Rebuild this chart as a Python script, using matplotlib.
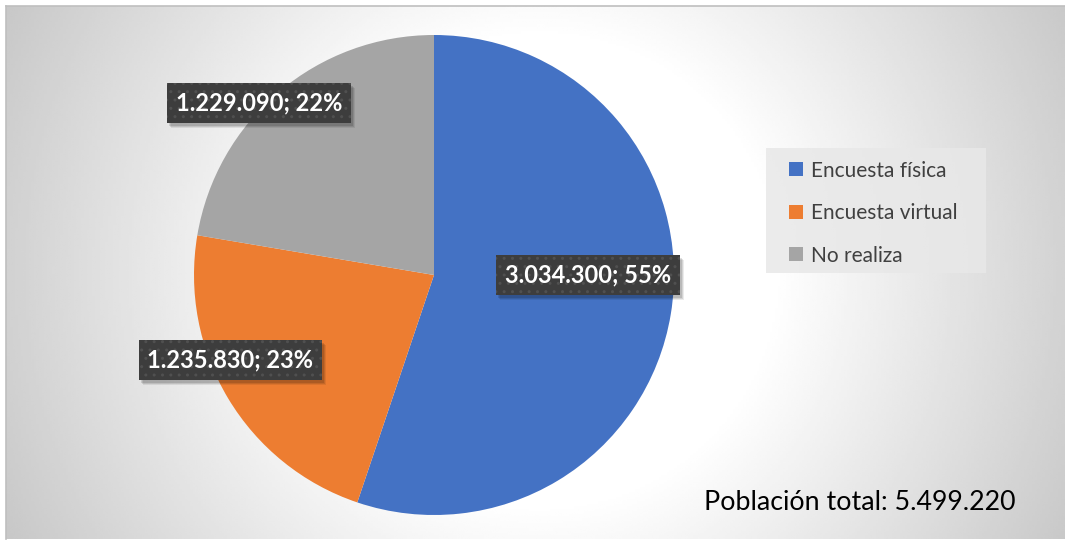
import numpy as np
import matplotlib
matplotlib.use("Agg")
import matplotlib.pyplot as plt
from matplotlib.patches import Rectangle

categories = ["Encuesta física", "Encuesta virtual", "No realiza"]
values = [3034300, 1235830, 1229090]
percentages = [55, 23, 22]
colors = ["#4472C4", "#ED7D31", "#A5A5A5"]
total_label = "Población total"

W, H = 1065, 541
fig = plt.figure(figsize=(W / 100, H / 100), dpi=100)
fig.patch.set_facecolor("white")
ax = fig.add_axes([0, 0, 1, 1])

# radial gradient background
x0, x1, y0, y1 = 6, W, 2, H - 6
xs = np.linspace(x0, x1, 400)
ys = np.linspace(y0, y1, 220)
X, Y = np.meshgrid(xs, ys)
cx, cy = 540, 270
d = np.hypot(X - cx, Y - cy)
v = 1 - 0.00060 * np.clip(d - 235, 0, None)
v = np.clip(v, 0, 1)
ax.imshow(v, cmap="gray", vmin=0, vmax=1, extent=(x0, x1, y0, y1),
          origin="lower", zorder=0, interpolation="bilinear", aspect="auto")
ax.plot([x0, x1], [y1, y1], color="#bfbfbf", lw=1.2, zorder=1)
ax.plot([x0, x0], [y0, y1], color="#bfbfbf", lw=1.2, zorder=1)

wedges, _ = ax.pie(values, colors=colors, startangle=90, counterclock=False,
                   center=(434, H - 275), radius=240,
                   wedgeprops=dict(edgecolor="none", linewidth=0))
for w in wedges:
    w.set_zorder(2)

ax.set_xlim(0, W)
ax.set_ylim(0, H)
ax.set_aspect("equal")
ax.axis("off")

def fmt(n):
    return f"{n:,}".replace(",", ".")

label_pos = [(588, H - 274.5), (230, H - 359.5), (259, H - 103)]
font = "Lato"
texts = []
for val, pct, (lx, ly) in zip(values, percentages, label_pos):
    txt = f"{fmt(val)}; {pct}%"
    t = ax.text(lx, ly, txt, ha="center", va="center", fontsize=17,
                fontweight="bold", family=font, color="white", zorder=4,
                bbox=dict(boxstyle="square,pad=0.36", facecolor="#3d3d3d",
                          edgecolor="#505050", linewidth=0, hatch=".."))
    texts.append(t)

# soft shadows behind label boxes
fig.canvas.draw()
inv = ax.transData.inverted()
for t in texts:
    bb = t.get_bbox_patch().get_window_extent()
    (bx0, by0), (bx1, by1) = inv.transform([[bb.x0, bb.y0], [bb.x1, bb.y1]])
    for k, a in [(5, 0.08), (4, 0.10), (3, 0.12)]:
        ax.add_patch(Rectangle((bx0 + k - 1, by0 - k), bx1 - bx0, by1 - by0,
                               facecolor="black", edgecolor="none",
                               alpha=a, zorder=3.5))

# legend background
ax.add_patch(Rectangle((766, H - 273), 220, 125, facecolor="#e8e8e8",
                       edgecolor="none", alpha=0.85, zorder=4))
leg = ax.legend(wedges, categories, loc="upper left",
                bbox_to_anchor=(787 / W, 1 - 158.5 / H),
                frameon=False,
                prop=dict(family=font, size=15), labelcolor="#404040",
                handlelength=0.68, handleheight=0.68, handletextpad=0.35,
                labelspacing=1.08, borderpad=0.1, borderaxespad=0)
leg.set_zorder(5)

ax.text(860, H - 503, f"{total_label}: {fmt(sum(values))}", ha="center",
        va="center", fontsize=19.3, family=font, color="black", zorder=5)

fig.savefig("out.png", dpi=100, facecolor="white")
